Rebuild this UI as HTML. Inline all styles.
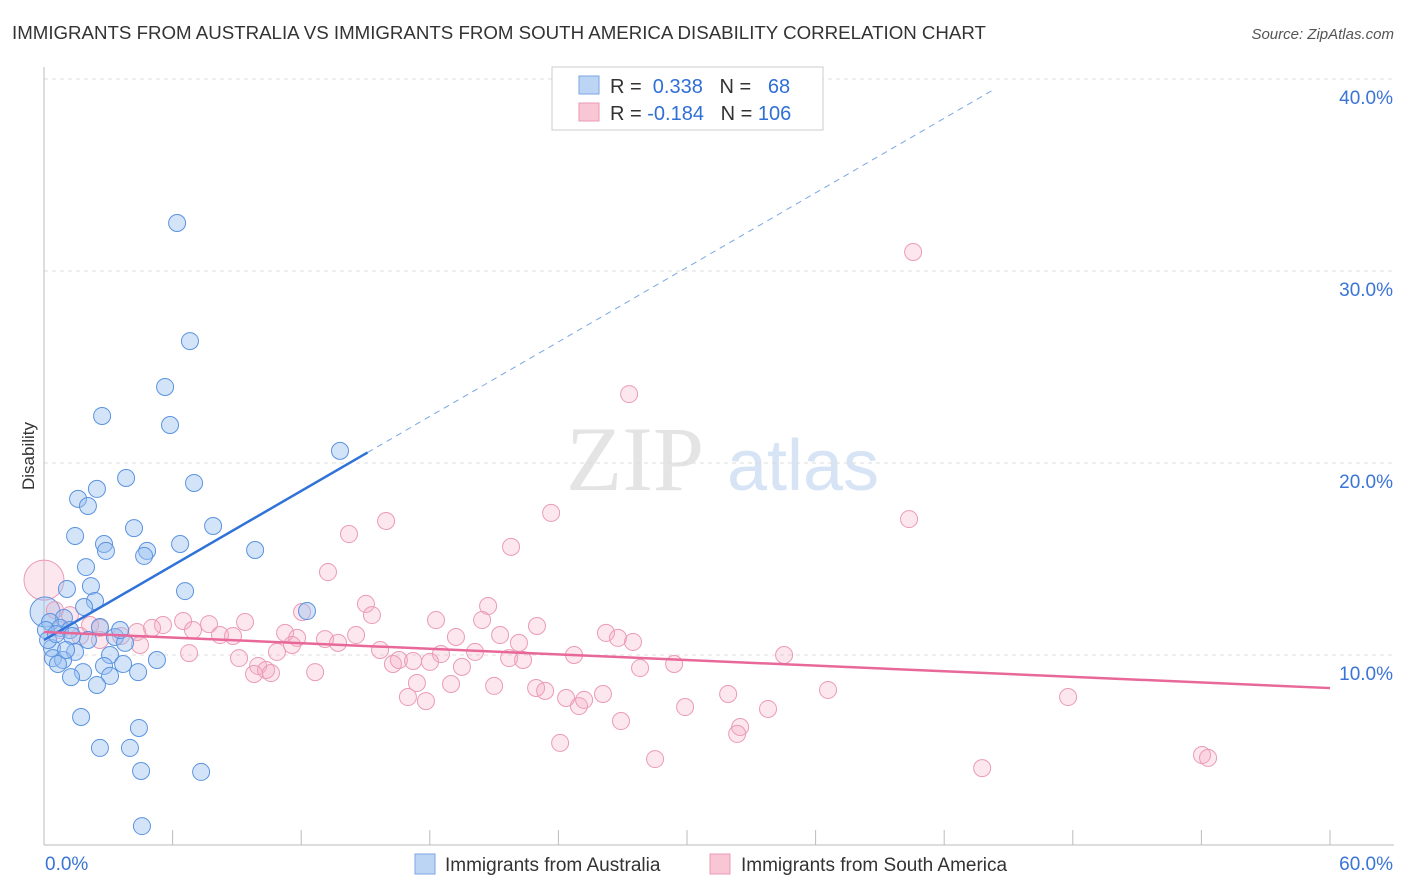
<!DOCTYPE html>
<html><head><meta charset="utf-8"><style>
body{margin:0;background:#fff;font-family:"Liberation Sans",sans-serif;}
svg{display:block}
</style></head><body>
<svg id="chart" width="1406" height="892" xmlns="http://www.w3.org/2000/svg">
<text x="12" y="39" font-size="18.7" fill="#333">IMMIGRANTS FROM AUSTRALIA VS IMMIGRANTS FROM SOUTH AMERICA DISABILITY CORRELATION CHART</text>
<text x="1394" y="39" font-size="15" fill="#555" font-style="italic" text-anchor="end">Source: ZipAtlas.com</text>
<text x="34" y="456" font-size="17" fill="#333" transform="rotate(-90 34 456)" text-anchor="middle">Disability</text>
<g><text x="635" y="490" font-size="92" fill="#e4e4e4" font-family="Liberation Serif" text-anchor="middle">ZIP</text><text x="803" y="490" font-size="72" fill="#d6e4f5" text-anchor="middle">atlas</text></g>
<g id="grid"></g><g id="marks"></g><g id="lines"></g>
<g>
<rect x="552" y="67" width="271" height="63" fill="#fff" stroke="#ccc"/>
<rect x="579" y="76" width="20" height="18" fill="#bcd5f5" stroke="#7aa6e2"/>
<rect x="579" y="103" width="20" height="18" fill="#f8c6d5" stroke="#eb9bb3"/>
<text x="610" y="93" font-size="20" fill="#333">R = <tspan fill="#2f6fd6">&#160;0.338</tspan>&#160;&#160;&#160;N = <tspan fill="#2f6fd6">&#160;&#160;68</tspan></text>
<text x="610" y="120" font-size="20" fill="#333">R = <tspan fill="#2f6fd6">-0.184</tspan>&#160;&#160;&#160;N = <tspan fill="#2f6fd6">106</tspan></text>
</g>
<g>
<rect x="415" y="854" width="20" height="20" fill="#bcd5f5" stroke="#7aa6e2"/>
<text x="445" y="871" font-size="19" fill="#333">Immigrants from Australia</text>
<rect x="710" y="854" width="20" height="20" fill="#f8c6d5" stroke="#eb9bb3"/>
<text x="741" y="871" font-size="19" fill="#333">Immigrants from South America</text>
</g>
</svg>
<script>
const yTicks=[10,20,30,40];
const yTickLabels=["10.0%","20.0%","30.0%","40.0%"];
const blueX=[6.21,6.81,5.65,5.88,2.71,13.81,3.83,2.47,7.0,1.59,2.05,7.89,4.2,1.45,2.8,6.35,2.89,4.81,4.67,9.85,1.96,1.07,2.19,6.58,2.38,1.87,12.27,0.93,0.28,0.75,1.21,1.31,2.61,3.31,3.78,0.37,1.45,3.08,0.42,0.89,0.65,3.69,5.27,2.8,4.39,1.82,1.26,3.08,2.47,1.73,4.43,2.61,4.01,4.53,7.33,4.57,0.09,0.19,0.56,1.03,2.05,3.55];
const blueY=[32.5,26.35,23.96,21.98,22.45,20.63,19.22,18.65,18.96,18.13,17.76,16.72,16.61,16.2,15.78,15.78,15.42,15.42,15.16,15.47,14.58,13.44,13.59,13.33,12.81,12.5,12.29,11.93,11.72,11.41,11.3,10.99,11.46,10.94,10.63,10.36,10.16,10.0,9.84,9.74,9.53,9.53,9.74,9.43,9.11,9.11,8.85,8.91,8.44,6.77,6.2,5.16,5.16,3.96,3.91,1.09,11.3,10.78,11.09,10.26,10.78,11.3];
const pinkX=[40.55,27.3,15.96,40.36,23.66,14.23,21.79,13.25,15.02,20.72,15.3,18.29,12.04,20.44,23.0,9.38,6.49,5.55,7.7,6.95,8.21,8.82,4.34,5.04,3.59,2.61,1.68,0.75,11.25,11.81,13.11,13.72,14.56,19.22,21.28,22.16,26.22,26.78,27.48,11.57,15.68,10.87,18.52,20.11,21.7,22.35,24.73,6.77,9.1,9.99,10.36,10.59,9.8,16.56,17.22,18.01,16.28,19.5,27.81,29.4,34.53,12.65,17.4,18.99,21.0,22.96,23.38,31.92,36.58,47.78,16.98,17.82,24.36,24.96,25.2,26.08,29.91,33.78,26.92,32.48,32.34,24.08,28.51,43.77,54.03,54.31,0.51,2.61,4.48,1.21,2.15];
const pinkY=[30.99,23.59,16.98,17.08,17.4,16.3,15.63,14.32,12.66,12.55,12.08,11.82,12.24,11.82,11.51,11.72,11.77,11.56,11.61,11.3,11.04,10.99,11.2,11.41,10.99,11.41,10.99,11.3,11.15,10.89,10.83,10.63,11.04,10.94,11.04,10.63,11.15,10.89,10.68,10.52,10.26,10.16,10.05,10.16,9.84,9.74,10.0,10.1,9.84,9.43,9.22,9.06,9.01,9.74,9.69,9.64,9.53,9.38,9.32,9.53,10.0,9.11,8.54,8.49,8.39,8.28,8.13,7.97,8.18,7.81,7.81,7.6,7.76,7.34,7.66,7.97,7.29,7.19,6.56,6.25,5.89,5.42,4.58,4.11,4.79,4.64,12.34,10.78,10.52,12.08,11.56];
const bigBlue=[0.05,12.24], bigPink=[0.0,13.9];
const blueLine=[10.78,0.647], pinkLine=[11.2,-0.0487];
const NS="http://www.w3.org/2000/svg";
const sx=v=>44+v*1286/60, sy=v=>847-v*19.2;
function mk(t,a,p){const e=document.createElementNS(NS,t);for(const k in a)e.setAttribute(k,a[k]);p.appendChild(e);return e;}
const grid=document.getElementById('grid'),marks=document.getElementById('marks'),lines=document.getElementById('lines');
yTicks.forEach((t,i)=>{
 const l=mk('line',{x1:44,x2:1394,y1:sy(t),y2:sy(t),stroke:'#ddd','stroke-dasharray':'4,4'},grid);
 
 const tx=mk('text',{x:1393,y:sy(t)+25,'font-size':19,fill:'#3a74d6','text-anchor':'end'},grid);
 tx.textContent=yTickLabels[i];
 
});
mk('line',{x1:44,x2:44,y1:67,y2:845,stroke:'#bbb'},grid);
mk('line',{x1:44,x2:1394,y1:845,y2:845,stroke:'#bbb'},grid);
for(let i=0;i<=10;i++){const x=sx(i*6);const t=mk('line',{x1:x,x2:x,y1:830,y2:845,stroke:'#bbb'},grid);}
const x0=mk('text',{x:45,y:870,'font-size':19,fill:'#3a74d6'},grid);x0.textContent='0.0%';

const x1=mk('text',{x:1393,y:870,'font-size':19,fill:'#3a74d6','text-anchor':'end'},grid);x1.textContent='60.0%';

function dot(x,y,r,c){const isB=c==='b';
 const e=mk('circle',{cx:sx(x),cy:sy(y),r:r,fill:isB?'rgba(150,190,240,0.42)':'rgba(244,170,195,0.28)',stroke:isB?'#5b93e0':'#eb9bb5','stroke-width':1},marks);
 
 }
dot(bigPink[0],bigPink[1],20,'p');dot(bigBlue[0],bigBlue[1],15,'b');
pinkX.forEach((x,i)=>dot(x,pinkY[i],8.5,'p'));
blueX.forEach((x,i)=>dot(x,blueY[i],8.5,'b'));
const bEnd=15.1,bDash=44.3;
const bl=mk('line',{x1:sx(0),y1:sy(blueLine[0]),x2:sx(bEnd),y2:sy(blueLine[0]+blueLine[1]*bEnd),stroke:'#2f72d8','stroke-width':2.5},lines);

const bd=mk('line',{x1:sx(bEnd),y1:sy(blueLine[0]+blueLine[1]*bEnd),x2:sx(bDash),y2:sy(blueLine[0]+blueLine[1]*bDash),stroke:'#7aa6e2','stroke-width':1,'stroke-dasharray':'6,5'},lines);

const pl=mk('line',{x1:sx(0),y1:sy(pinkLine[0]),x2:sx(60),y2:sy(pinkLine[0]+pinkLine[1]*60),stroke:'#e8689a','stroke-width':2.5},lines);

</script>
</body></html>
